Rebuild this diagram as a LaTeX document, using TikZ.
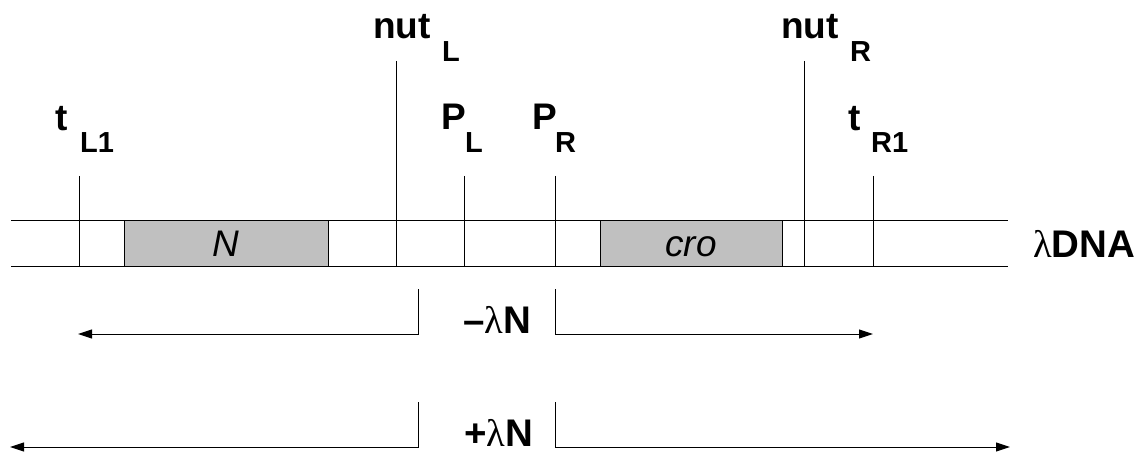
\documentclass[tikz,border=0pt]{standalone}
\usepackage{fontspec}
\setmainfont{Liberation Sans}
\newfontfamily\lamfont{Liberation Serif}
\usetikzlibrary{arrows.meta}
\definecolor{boxgray}{RGB}{192,192,192}
\tikzset{
  ln/.style={line width=1pt, black},
  lab/.style={inner sep=0pt, anchor=base west, font=\fontsize{37}{40}\selectfont\bfseries},
  biglab/.style={inner sep=0pt, anchor=base west, font=\fontsize{38.5}{42}\selectfont\bfseries},
  sublab/.style={inner sep=0pt, anchor=base west, font=\fontsize{29}{32}\selectfont\bfseries},
  genebox/.style={draw=black, line width=1pt, fill=boxgray, inner sep=0pt, text height=26pt, text depth=0pt, font=\fontsize{37}{40}\selectfont\itshape},
  arr/.style={ln, -{Triangle[length=14pt,width=9pt]}}
}
\begin{document}
\begin{tikzpicture}[x=1pt,y=-1pt]
\useasboundingbox (0,0) rectangle (1147,454);
% DNA strands
\coordinate (dnaTL) at (11,221);
\coordinate (dnaTR) at (1008,221);
\coordinate (dnaBL) at (11,266);
\coordinate (dnaBR) at (1008,266);
\draw[ln] (dnaTL) -- (dnaTR);
\draw[ln] (dnaBL) -- (dnaBR);
% genes
\node[genebox, minimum width=204pt, minimum height=45pt] (Nbox) at (226,243.5) {N};
\node[genebox, minimum width=182pt, minimum height=45pt] (crobox) at (691,243.5) {cro};
% site markers
\coordinate (tLtop) at (79,176);   \coordinate (tLbot) at (79,266);
\coordinate (nLtop) at (396,61);   \coordinate (nLbot) at (396,266);
\coordinate (pLtop) at (464,176);  \coordinate (pLbot) at (464,266);
\coordinate (pRtop) at (555,176);  \coordinate (pRbot) at (555,266);
\coordinate (nRtop) at (804,61);   \coordinate (nRbot) at (804,266);
\coordinate (tRtop) at (873,176);  \coordinate (tRbot) at (873,266);
\draw[ln] (tLtop) -- (tLbot);
\draw[ln] (nLtop) -- (nLbot);
\draw[ln] (pLtop) -- (pLbot);
\draw[ln] (pRtop) -- (pRbot);
\draw[ln] (nRtop) -- (nRbot);
\draw[ln] (tRtop) -- (tRbot);
% labels
\node[lab] (tL) at (55,131) {t};
\node[sublab] (tLs) at (80,153) {L1};
\node[lab] (nutL) at (373,39) {nut};
\node[sublab] (nutLs) at (442,62) {L};
\node[lab] (PL) at (441,130) {P};
\node[sublab] (PLs) at (465,153) {L};
\node[lab] (PR) at (532,130) {P};
\node[sublab] (PRs) at (555,153) {R};
\node[lab] (nutR) at (781,39) {nut};
\node[sublab] (nutRs) at (850,62) {R};
\node[lab] (tR) at (848,131) {t};
\node[sublab] (tRs) at (871,153) {R1};
\node[biglab] (dna) at (1033,258) {{\mdseries\lamfont λ}DNA};
% transcripts without N
\node[biglab] (minusN) at (463,333) {–{\mdseries\lamfont λ}N};
\coordinate (mLtop) at (418,289); \coordinate (mLcorner) at (418,334); \coordinate (mLend) at (78,334);
\coordinate (mRtop) at (555,289); \coordinate (mRcorner) at (555,334); \coordinate (mRend) at (873,334);
\draw[arr] (mLtop) -- (mLcorner) -- (mLend);
\draw[arr] (mRtop) -- (mRcorner) -- (mRend);
% transcripts with N
\node[biglab] (plusN) at (464,446) {+{\mdseries\lamfont λ}N};
\coordinate (pLtop2) at (418,402); \coordinate (pLcorner2) at (418,447); \coordinate (pLend2) at (10,447);
\coordinate (pRtop2) at (555,402); \coordinate (pRcorner2) at (555,447); \coordinate (pRend2) at (1010,447);
\draw[arr] (pLtop2) -- (pLcorner2) -- (pLend2);
\draw[arr] (pRtop2) -- (pRcorner2) -- (pRend2);
\end{tikzpicture}
\end{document}
